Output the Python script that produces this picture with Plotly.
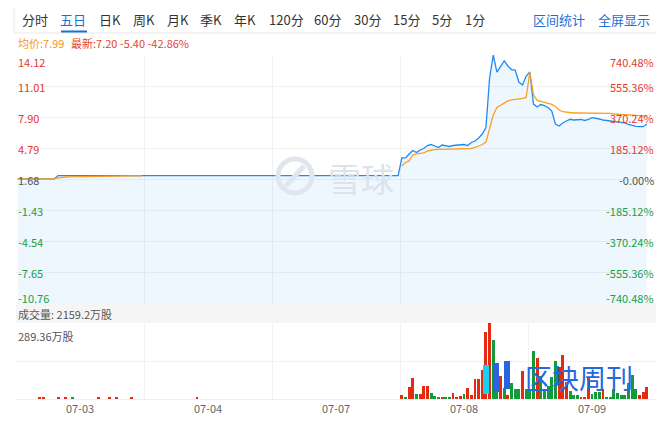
import plotly.graph_objects as go

# ---------------- data ----------------
SLOTS = 35
day_labels = ["07-03", "07-04", "07-07", "07-08", "07-09"]
prev_close = 1.68
price_ticks = [-10.76, -7.65, -4.54, -1.43, 1.68, 4.79, 7.90, 11.01, 14.12]
pct_labels = ["-740.48%", "-555.36%", "-370.24%", "-185.12%", "-0.00%",
              "185.12%", "370.24%", "555.36%", "740.48%"]
vol_max = 289.36
avg_latest = "7.99"
last_price = "7.20"
change = "-5.40"
change_pct = "-42.86%"
total_volume = "2159.2万股"

price_0703 = [1.70, 1.70, 1.70, 1.70, 1.70, 1.70, 1.70, 1.70, 1.70, 1.70, 1.70,
              2.02, 2.02, 2.02, 2.02, 2.02, 2.02, 2.02, 2.02, 2.02, 2.02, 2.02, 2.02,
              2.02, 2.02, 2.02, 2.02, 2.02, 2.02, 2.02, 2.02, 2.02, 2.02, 2.02, 2.02]
price_0704 = [2.02, 2.02, 2.02, 2.02, 2.02, 2.02, 2.02, 2.02, 2.02, 2.02, 2.02, 2.02,
              2.02, 2.02, 2.02, 2.02, 2.02, 2.02, 2.02, 2.02, 2.02, 2.02, 2.02, 2.02,
              2.02, 2.02, 2.02, 2.02, 2.02, 2.02, 2.02, 2.02, 2.02, 2.02, 2.02]
price_0707 = [2.02, 2.02, 2.02, 2.02, 2.02, 2.02, 2.02, 2.02, 2.02, 2.02, 2.02, 2.02,
              2.02, 2.02, 2.02, 2.02, 2.02, 2.02, 2.02, 2.02, 2.02, 2.02, 2.02, 2.02,
              2.02, 2.02, 2.02, 2.02, 2.02, 2.02, 2.02, 2.02, 2.02, 2.02, 2.02]
price_0708 = [3.79, 3.79, 4.19, 4.54, 4.34, 4.59, 4.74, 5.04, 5.14, 4.99, 4.84, 5.09,
              5.04, 4.94, 5.04, 5.09, 5.14, 5.14, 5.04, 5.34, 5.49, 5.79, 6.19, 6.85,
              11.81, 14.12, 12.41, 12.92, 13.52, 13.02, 12.66, 12.61, 11.41, 11.11, 12.01]
price_0709 = [12.41, 9.20, 8.90, 9.15, 9.05, 8.85, 8.50, 7.20, 7.00, 7.30, 7.50, 7.67,
              7.60, 7.65, 7.65, 7.55, 7.65, 7.83, 7.80, 7.70, 7.60, 7.55, 7.50, 7.47,
              7.45, 7.40, 7.30, 7.15, 7.05, 6.95, 6.93, 6.93, 7.20]

avg_0703 = [1.70, 1.70, 1.70, 1.70, 1.70, 1.70, 1.70, 1.70, 1.70, 1.70, 1.70,
            1.80, 1.86, 1.88, 1.89, 1.90, 1.90, 1.91, 1.91, 1.92, 1.92, 1.93, 1.93,
            1.94, 1.94, 1.95, 1.98, 1.98, 1.98, 1.98, 1.98, 1.99, 1.99, 1.99, 1.99]
avg_0704 = [None] * 35
avg_0707 = [None] * 35
avg_0708 = [2.98, 3.34, 3.49, 4.09, 4.21, 4.24, 4.29, 4.49, 4.59, 4.62, 4.65, 4.66,
            4.66, 4.67, 4.67, 4.68, 4.68, 4.69, 4.69, 4.74, 4.84, 4.99, 5.14, 5.39,
            6.80, 8.10, 8.85, 9.10, 9.30, 9.51, 9.61, 9.66, 9.68, 9.76, 9.86]
avg_0709 = [12.41, 10.11, 9.56, 9.46, 9.37, 9.30, 9.17, 8.95, 8.60, 8.43, 8.37, 8.33,
            8.30, 8.30, 8.30, 8.28, 8.28, 8.27, 8.27, 8.27, 8.27, 8.27, 8.27, 8.20,
            8.17, 8.14, 8.11, 8.09, 8.07, 8.05, 8.03, 8.01, 7.99]

vol_0703 = [0, 0, 0, 0, 0, 0, 6, 6, 0, 0, 0, 6, 0, 6, 0, 6, 0, 0, 0, 0, 0, 0, 6, 0,
            0, 6, 0, 6, 0, 0, 0, 6, 0, 0, 0]
dir_0703 = [1, 1, 1, 1, 1, 1, 1, 1, 1, 1, 1, 1, 1, 1, 1, -1, 1, 1, 1, 1, 1, 1, 1, 1,
            1, 1, 1, 1, 1, 1, 1, 1, 1, 1, 1]
vol_0704 = [0, 0, 0, 0, 0, 0, 0, 0, 0, 0, 0, 0, 0, 0, 6, 0, 0, 0, 0, 0, 0, 0, 0, 0,
            0, 0, 0, 0, 0, 0, 0, 0, 0, 0, 0]
dir_0704 = [1] * 35
vol_0707 = [0] * 35
dir_0707 = [1] * 35
vol_0708 = [16, 6, 44, 79, 18, 18, 48, 48, 22, 10, 6, 6, 6, 6, 22, 8, 10, 19, 41, 16,
            75, 75, 110, 254, 289.36, 223, 60, 86, 42, 14, 60, 39, 39, 105, 39]
dir_0708 = [1, -1, 1, 1, -1, 1, 1, 1, -1, -1, -1, 1, -1, -1, 1, 1, 1, -1, 1, 1,
            1, 1, 1, 1, 1, -1, -1, 1, -1, 1, -1, -1, -1, 1, -1]
vol_0709 = [35, 182, 156, 86, 39, 48, 83, 143, 122, 166, 63, 32, 16, 16, 8, 4, 85,
            19, 25, 25, 39, 6, 6, 39, 23, 14, 14, 61, 92, 39, 17, 25, 45]
dir_0709 = [-1, -1, 1, -1, -1, -1, -1, -1, 1, 1, 1, -1, -1, -1, 1, 1, 1,
            -1, -1, -1, 1, -1, -1, -1, -1, -1, -1, -1, -1, -1, 1, 1, 1]

# ---------------- assemble ----------------
prices = [price_0703, price_0704, price_0707, price_0708, price_0709]
avgs = [avg_0703, avg_0704, avg_0707, avg_0708, avg_0709]
vols = [vol_0703, vol_0704, vol_0707, vol_0708, vol_0709]
dirs = [dir_0703, dir_0704, dir_0707, dir_0708, dir_0709]

xs, ps, av, vs, vc = [], [], [], [], []
for d in range(5):
    for i, p in enumerate(prices[d]):
        xs.append(d * SLOTS + i + 0.5)
        ps.append(p)
        av.append(avgs[d][i])
        vs.append(vols[d][i])
        vc.append(dirs[d][i])

RED = "#e42a10"
GREEN = "#139a3a"
BLUE = "#1e8cf0"
ORANGE = "#f7a029"
bar_colors = [RED if c > 0 else GREEN for c in vc]

FONT = "Noto Sans CJK SC, Noto Sans, sans-serif"

fig = go.Figure()
fig.add_trace(go.Scatter(x=xs, y=[price_ticks[0]] * len(xs), mode="lines",
                         line=dict(width=0), hoverinfo="skip", showlegend=False,
                         xaxis="x", yaxis="y"))
fig.add_trace(go.Scatter(x=xs, y=ps, mode="lines", fill="tonexty",
                         fillcolor="rgba(30,140,240,0.07)",
                         line=dict(color=BLUE, width=1.3), showlegend=False,
                         xaxis="x", yaxis="y"))
fig.add_trace(go.Scatter(x=xs, y=av, mode="lines", connectgaps=False,
                         line=dict(color=ORANGE, width=1.3), showlegend=False,
                         xaxis="x", yaxis="y"))
fig.add_trace(go.Bar(x=xs, y=vs, marker=dict(color=bar_colors, line=dict(width=0)),
                     width=0.8, showlegend=False, xaxis="x2", yaxis="y2"))

# ---------------- layout helpers ----------------
# page body adds an 8px offset; the figure is sized so that the page matches 664x427
OFF = 8
FIG_W, FIG_H = 664 - OFF, 427 - OFF
L, R, T, B = 16, 656, 55, 399   # plot area in page pixels


def px(X):
    return (X - L) / (R - L)


def py(Y):
    return (B - Y) / (B - T)


price_dom = [py(303), 1]
vol_dom = [0, py(323)]
GRID = "#f1f1f1"

fig.update_layout(
    width=FIG_W, height=FIG_H,
    margin=dict(l=L - OFF, r=FIG_W - (R - OFF), t=T - OFF, b=FIG_H - (B - OFF)),
    paper_bgcolor="white", plot_bgcolor="white",
    font=dict(family=FONT, size=11, color="#555"),
    bargap=0,
    xaxis=dict(domain=[0, 1], range=[0, 5 * SLOTS], anchor="y",
               showticklabels=False, showgrid=False, zeroline=False,
               minor=dict(tick0=0, dtick=SLOTS, showgrid=True, gridcolor=GRID, ticks="")),
    yaxis=dict(domain=price_dom, range=[price_ticks[0], price_ticks[-1]], anchor="x",
               tickvals=price_ticks, showticklabels=False, showgrid=True,
               gridcolor=GRID, zeroline=False),
    xaxis2=dict(domain=[0, 1], range=[0, 5 * SLOTS], anchor="y2",
                tickvals=[d * SLOTS + SLOTS / 2 for d in range(5)], ticktext=day_labels,
                tickfont=dict(size=11, color="#666", family=FONT), ticks="",
                showgrid=False, zeroline=False, showline=True, linecolor="#eeeeee",
                minor=dict(tick0=0, dtick=SLOTS, showgrid=True, gridcolor=GRID, ticks="")),
    yaxis2=dict(domain=vol_dom, range=[0, vol_max], anchor="x2",
                tickvals=[vol_max / 2], showticklabels=False, showgrid=True,
                gridcolor=GRID, zeroline=False),
)

shapes = []
ann = []

# volume header band
shapes.append(dict(type="rect", xref="paper", yref="paper", x0=0, x1=1,
                   y0=py(323), y1=py(303), fillcolor="#f5f5f5", line=dict(width=0),
                   layer="below"))
ann.append(dict(xref="paper", yref="paper", x=0, y=py(314), xanchor="left",
                yanchor="middle", text="成交量: " + total_volume, showarrow=False,
                font=dict(size=11, color="#555")))
ann.append(dict(xref="paper", yref="y2", x=0, y=vol_max, xanchor="left",
                yanchor="top", yshift=-3, text=f"{vol_max:.2f}万股", showarrow=False,
                font=dict(size=11, color="#555")))

# price axis labels
for i, v in enumerate(price_ticks):
    if v > prev_close + 1e-9:
        col = "#e5382a"
    elif v < prev_close - 1e-9:
        col = "#1a9e45"
    else:
        col = "#555555"
    ys = 0
    if i == len(price_ticks) - 1:
        ys = -6
    elif i == 0:
        ys = 6
    ann.append(dict(xref="paper", yref="y", x=0, y=v, xanchor="left", yanchor="middle",
                    yshift=ys - 1, text=f"{v:.2f}", showarrow=False,
                    font=dict(size=11, color=col)))
    ann.append(dict(xref="paper", yref="y", x=1, y=v, xanchor="right", yanchor="middle",
                    yshift=ys - 1, text=pct_labels[i], showarrow=False,
                    font=dict(size=11, color=col)))

# top navigation
nav_items = ["分时", "五日", "日K", "周K", "月K", "季K", "年K", "120分", "60分",
             "30分", "15分", "5分", "1分"]
nav_x = [35, 73, 110, 144, 178, 211, 245, 286, 327, 367, 406, 442, 475]
shapes.append(dict(type="rect", xref="paper", yref="paper", x0=px(14), x1=px(658),
                   y0=py(33), y1=py(4), line=dict(color="#e8e8e8", width=1)))
for t, xx in zip(nav_items, nav_x):
    ann.append(dict(xref="paper", yref="paper", x=px(xx), y=py(19), xanchor="center",
                    yanchor="middle", text=t, showarrow=False,
                    font=dict(size=13, color="#1a6fd8" if t == "五日" else "#333")))
shapes.append(dict(type="line", xref="paper", yref="paper", x0=px(61), x1=px(87),
                   y0=py(31.5), y1=py(31.5), line=dict(color="#1a6fd8", width=2)))
for t, xx in zip(["区间统计", "全屏显示"], [559, 624]):
    ann.append(dict(xref="paper", yref="paper", x=px(xx), y=py(19), xanchor="center",
                    yanchor="middle", text=t, showarrow=False,
                    font=dict(size=13, color="#1a6fd8")))

# price summary line
ann.append(dict(xref="paper", yref="paper", x=0, y=py(43), xanchor="left",
                yanchor="middle", text="均价:" + avg_latest, showarrow=False,
                font=dict(size=11, color="#f29a1d")))
ann.append(dict(xref="paper", yref="paper", x=px(69), y=py(43), xanchor="left",
                yanchor="middle", text=f"最新:{last_price} {change} {change_pct}",
                showarrow=False, font=dict(size=11, color="#e8432f")))

# watermark: 雪球
shapes.append(dict(type="circle", xref="paper", yref="paper", x0=px(278), x1=px(312),
                   y0=py(193), y1=py(159), line=dict(color="#e1e6ee", width=5)))
shapes.append(dict(type="line", xref="paper", yref="paper", x0=px(286), x1=px(304),
                   y0=py(186), y1=py(166), line=dict(color="#e1e6ee", width=5)))
ann.append(dict(xref="paper", yref="paper", x=px(361), y=py(178), xanchor="center",
                yanchor="middle", text="雪球", showarrow=False,
                font=dict(size=33, color="#dde3ec")))

# watermark: 区块周刊
shapes.append(dict(type="rect", xref="paper", yref="paper", x0=px(483), x1=px(489),
                   y0=py(394), y1=py(365), fillcolor="#18d0f2", line=dict(width=0)))
shapes.append(dict(type="rect", xref="paper", yref="paper", x0=px(493), x1=px(499),
                   y0=py(392), y1=py(363), fillcolor="#2a63e0", line=dict(width=0)))
shapes.append(dict(type="rect", xref="paper", yref="paper", x0=px(504), x1=px(510),
                   y0=py(389), y1=py(361), fillcolor="#2a63e0", line=dict(width=0)))
ann.append(dict(xref="paper", yref="paper", x=px(579), y=py(377), xanchor="center",
                yanchor="middle", text="区块周刊", showarrow=False,
                font=dict(size=27, color="#2468e0")))

fig.update_layout(shapes=shapes, annotations=ann)
fig.write_html("out.html")
